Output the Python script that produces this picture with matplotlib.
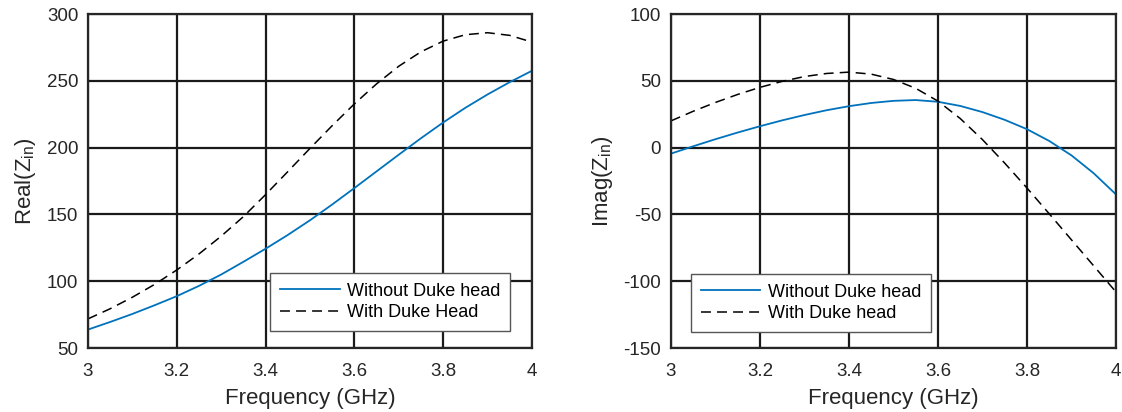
import matplotlib.pyplot as plt
import numpy as np

plt.rcParams["font.family"] = ["Liberation Sans", "DejaVu Sans"]
plt.rcParams["mathtext.fontset"] = "custom"
plt.rcParams["mathtext.rm"] = "Liberation Sans"
plt.rcParams["mathtext.it"] = "Liberation Sans:italic"

# %% data
freq = [3.00, 3.05, 3.10, 3.15, 3.20, 3.25, 3.30, 3.35, 3.40, 3.45, 3.50,
        3.55, 3.60, 3.65, 3.70, 3.75, 3.80, 3.85, 3.90, 3.95, 4.00]

realWithout = [63.8, 69.5, 75.5, 82.0, 88.8, 96.5, 105.0, 114.5, 124.3, 134.6, 145.6,
               157.4, 169.7, 182.2, 194.7, 207.0, 218.8, 229.8, 239.8, 249.0, 257.5]
realWith = [71.8, 79.4, 88.0, 97.6, 108.4, 120.4, 133.7, 148.3, 164.8, 182.0, 199.4,
            216.4, 232.7, 247.7, 260.9, 271.7, 279.7, 284.5, 286.0, 284.0, 279.0]

imagWithout = [-4.5, 1.0, 6.3, 11.3, 16.0, 20.4, 24.4, 28.0, 31.0, 33.4, 35.0,
               35.6, 34.3, 31.2, 26.6, 20.8, 13.8, 5.0, -5.8, -19.2, -35.0]
imagWith = [20.0, 27.2, 33.8, 39.8, 45.1, 49.6, 53.2, 55.5, 56.5, 55.0, 51.0,
            44.4, 34.8, 21.8, 6.0, -11.6, -30.2, -49.5, -69.0, -88.5, -108.0]

xTicks = [3, 3.2, 3.4, 3.6, 3.8, 4]
xTickLabels = ["3", "3.2", "3.4", "3.6", "3.8", "4"]
realTicks = [50, 100, 150, 200, 250, 300]
imagTicks = [-150, -100, -50, 0, 50, 100]

blue = "#0072BD"
txtCol = "#262626"

fig = plt.figure(figsize=(11.22, 4.12), dpi=100)
axL = fig.add_axes([0.0784, 0.1553, 0.3957, 0.8107])
axR = fig.add_axes([0.598, 0.1553, 0.3966, 0.8107])


def styleAx(ax, yticks, ylabel):
    ax.set_xlim(3, 4)
    ax.set_ylim(yticks[0], yticks[-1])
    ax.set_xticks(xTicks)
    ax.set_xticklabels(xTickLabels)
    ax.set_yticks(yticks)
    ax.set_yticklabels([str(v) for v in yticks])
    ax.grid(True, color="#1a1a1a", linewidth=1.6)
    ax.set_axisbelow(True)
    ax.tick_params(direction="in", length=0, labelsize=13.5, colors=txtCol)
    ax.tick_params(axis="x", pad=10.5)
    ax.tick_params(axis="y", pad=7)
    for sp in ax.spines.values():
        sp.set_color("#262626")
        sp.set_linewidth(1.6)
    ax.set_xlabel("Frequency (GHz)", fontsize=16, color=txtCol, labelpad=6)
    ax.set_ylabel(ylabel, fontsize=16, color=txtCol, labelpad=6)


legKw = dict(loc="upper left", fontsize=13, fancybox=False, framealpha=1,
             edgecolor="#555555", handlelength=3.3, borderpad=0.55,
             labelspacing=0.25, handletextpad=0.4, borderaxespad=0)

axL.plot(freq, realWithout, color=blue, lw=1.3, label="Without Duke head")
axL.plot(freq, realWith, color="black", lw=1.1, dashes=(6.5, 4), label="With Duke Head")
styleAx(axL, realTicks, r"Real(Z$_{\mathrm{in}}$)")
legL = axL.legend(bbox_to_anchor=(0.41, 0.225), **legKw)
legL.get_frame().set_linewidth(1.0)

axR.plot(freq, imagWithout, color=blue, lw=1.3, label="Without Duke head")
axR.plot(freq, imagWith, color="black", lw=1.1, dashes=(6.5, 4), label="With Duke head")
styleAx(axR, imagTicks, r"Imag(Z$_{\mathrm{in}}$)")
legR = axR.legend(bbox_to_anchor=(0.045, 0.222), **legKw)
legR.get_frame().set_linewidth(1.0)

plt.savefig("out.png", dpi=100)
